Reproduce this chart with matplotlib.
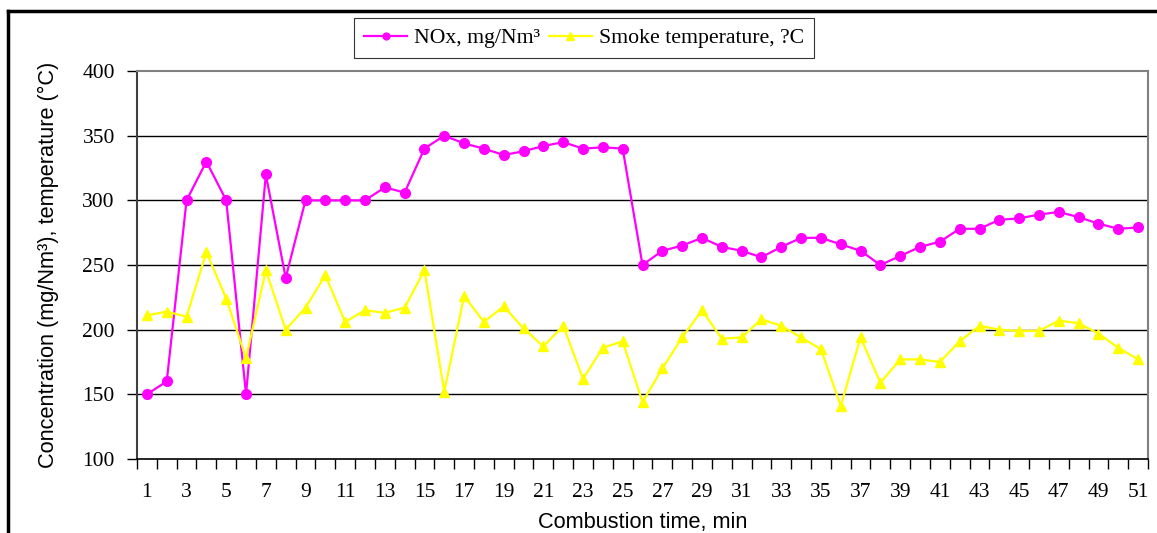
import matplotlib
matplotlib.use("Agg")
import matplotlib.pyplot as plt
import numpy as np
from matplotlib.lines import Line2D

minutes = list(range(1, 52))
nox = [150, 160, 300, 330, 300, 150, 320, 240, 300, 300,
       300, 300, 310, 306, 340, 350, 344, 340, 335, 338,
       342, 345, 340, 341, 340, 250, 261, 265, 271, 264,
       261, 256, 264, 271, 271, 266, 261, 250, 257, 264,
       268, 278, 278, 285, 286, 289, 291, 287, 282, 278, 279]
smoke_temp = [211, 214, 210, 260, 224, 178, 246, 200, 217, 242,
              206, 215, 213, 217, 246, 152, 226, 206, 218, 201,
              187, 203, 162, 186, 191, 144, 170, 194, 215, 193,
              194, 208, 203, 194, 185, 141, 194, 159, 177, 177,
              175, 191, 203, 200, 199, 199, 207, 205, 197, 186, 177]
y_ticks = [100, 150, 200, 250, 300, 350, 400]
x_labels = [str(m) for m in minutes[::2]]

serif = "Liberation Serif"
sans = "Liberation Sans"

fig = plt.figure(figsize=(11.57, 5.33), dpi=100)
ax = fig.add_axes([137 / 1157, 74 / 533, 1011 / 1157, 388 / 533])

ax.plot(minutes, nox, color="#ff00ff", lw=1.6, marker="o", ms=7,
        label="NOx, mg/Nm³", zorder=3)
ax.plot(minutes, smoke_temp, color="#ffff00", lw=1.6, marker="^", ms=7.5,
        label="Smoke temperature, ?C", zorder=3)

ax.set_xlim(0.5, 51.5)
ax.set_ylim(100, 400)
ax.set_yticks(y_ticks)
ax.set_yticklabels([str(v) for v in y_ticks], fontfamily=serif, fontsize=15.5)
ax.set_xticks(np.arange(0.5, 52, 1.0))
ax.set_xticklabels([])
ax.set_xticks(minutes[::2], minor=True)
ax.set_xticklabels(x_labels, minor=True, fontfamily=serif, fontsize=15.5)
ax.tick_params(axis="x", which="major", length=7, width=1, color="black", direction="out")
ax.tick_params(axis="x", which="minor", length=0, pad=17)
ax.tick_params(axis="y", length=7, width=1, color="black", direction="out", pad=9)

for v in y_ticks[1:-1]:
    ax.axhline(v, color="black", lw=1.0, zorder=1)

ax.spines["top"].set_color("#808080")
ax.spines["right"].set_color("#808080")
ax.spines["top"].set_linewidth(1.5)
ax.spines["right"].set_linewidth(1.5)
ax.spines["left"].set_color("#404040")
ax.spines["left"].set_linewidth(1.5)
ax.spines["bottom"].set_color("black")
ax.spines["bottom"].set_linewidth(1.2)

ax.set_xlabel("Combustion time, min", fontfamily=sans, fontsize=15.7, labelpad=7.5)
ax.set_ylabel("Concentration (mg/Nm³), temperature (°C)", fontfamily=sans,
              fontsize=15.7, labelpad=17)

leg = ax.legend(loc="lower center", bbox_to_anchor=(0.442, 1.0335), ncol=2,
                frameon=True, fancybox=False, edgecolor="black",
                prop={"family": serif, "size": 15.7}, handlelength=2.0,
                columnspacing=0.4, handletextpad=0.3, borderpad=0.45,
                borderaxespad=0, markerscale=0.7)
leg.get_frame().set_linewidth(0.8)

# outer border (top and left visible in the original)
fig.add_artist(Line2D([8 / 1157, 1.0], [1 - 11 / 533, 1 - 11 / 533],
                      transform=fig.transFigure, color="black", lw=2.5))
fig.add_artist(Line2D([8 / 1157, 8 / 1157], [0.0, 1 - 11 / 533],
                      transform=fig.transFigure, color="black", lw=2.5))

fig.savefig("out.png", dpi=100)
